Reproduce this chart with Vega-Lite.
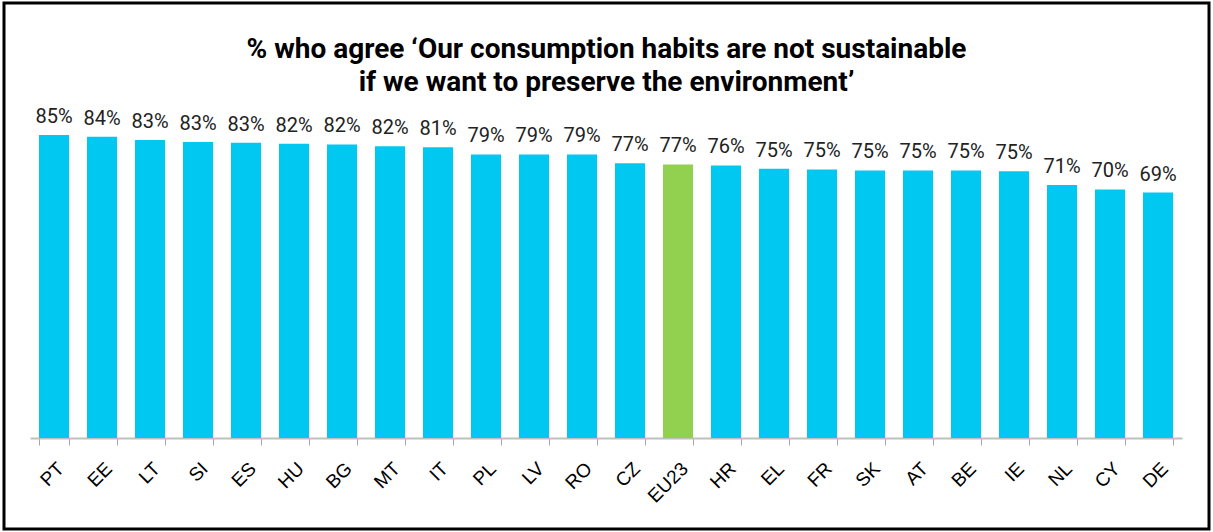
{
  "$schema": "https://vega.github.io/schema/vega-lite/v6.json",
  "width": 1205,
  "height": 526,
  "autosize": {"type": "none"},
  "padding": {"left": 4, "top": 3, "right": 4, "bottom": 3},
  "background": "white",
  "config": {"view": {"stroke": "#000000", "strokeWidth": 3}},
  "title": {
    "text": ["% who agree ‘Our consumption habits are not sustainable", "if we want to preserve the environment’"],
    "font": "Roboto",
    "fontSize": 28,
    "fontWeight": "bold",
    "color": "#000000",
    "anchor": "middle",
    "frame": "group",
    "offset": -94,
    "lineHeight": 33
  },
  "data": {
    "values": [
      {"country": "PT", "value": 0.848},
      {"country": "EE", "value": 0.8435},
      {"country": "LT", "value": 0.834},
      {"country": "SI", "value": 0.8287},
      {"country": "ES", "value": 0.8267},
      {"country": "HU", "value": 0.824},
      {"country": "BG", "value": 0.822},
      {"country": "MT", "value": 0.817},
      {"country": "IT", "value": 0.814},
      {"country": "PL", "value": 0.794},
      {"country": "LV", "value": 0.794},
      {"country": "RO", "value": 0.794},
      {"country": "CZ", "value": 0.769},
      {"country": "EU23", "value": 0.766},
      {"country": "HR", "value": 0.763},
      {"country": "EL", "value": 0.754},
      {"country": "FR", "value": 0.752},
      {"country": "SK", "value": 0.749},
      {"country": "AT", "value": 0.749},
      {"country": "BE", "value": 0.749},
      {"country": "IE", "value": 0.747},
      {"country": "NL", "value": 0.708},
      {"country": "CY", "value": 0.696},
      {"country": "DE", "value": 0.687}
    ]
  },
  "encoding": {
    "x": {
      "field": "country",
      "type": "nominal",
      "sort": null,
      "scale": {"range": [26, 1178], "paddingInner": 0.375, "paddingOuter": 0.1875},
      "axis": {
        "title": null,
        "labelAngle": -45,
        "labelFont": "Liberation Sans",
        "labelFontSize": 19,
        "labelColor": "#000000",
        "domainColor": "#bfbfbf",
        "domainWidth": 2,
        "tickColor": "#a6a6a6",
        "tickSize": 7,
        "tickWidth": 1,
        "tickBand": "extent",
        "offset": -91,
        "labelPadding": 14
      }
    },
    "y": {
      "field": "value",
      "type": "quantitative",
      "scale": {"domain": [-0.2548, 1.2178], "nice": false},
      "axis": null
    }
  },
  "layer": [
    {
      "mark": {"type": "bar"},
      "encoding": {
        "color": {
          "condition": {"test": "datum.country === 'EU23'", "value": "#92D050"},
          "value": "#00C8F0"
        }
      }
    },
    {
      "mark": {"type": "text", "baseline": "alphabetic", "dy": -12, "font": "Roboto", "fontSize": 20, "color": "#222222"},
      "encoding": {
        "text": {"field": "value", "type": "quantitative", "format": ".0%"}
      }
    }
  ]
}
